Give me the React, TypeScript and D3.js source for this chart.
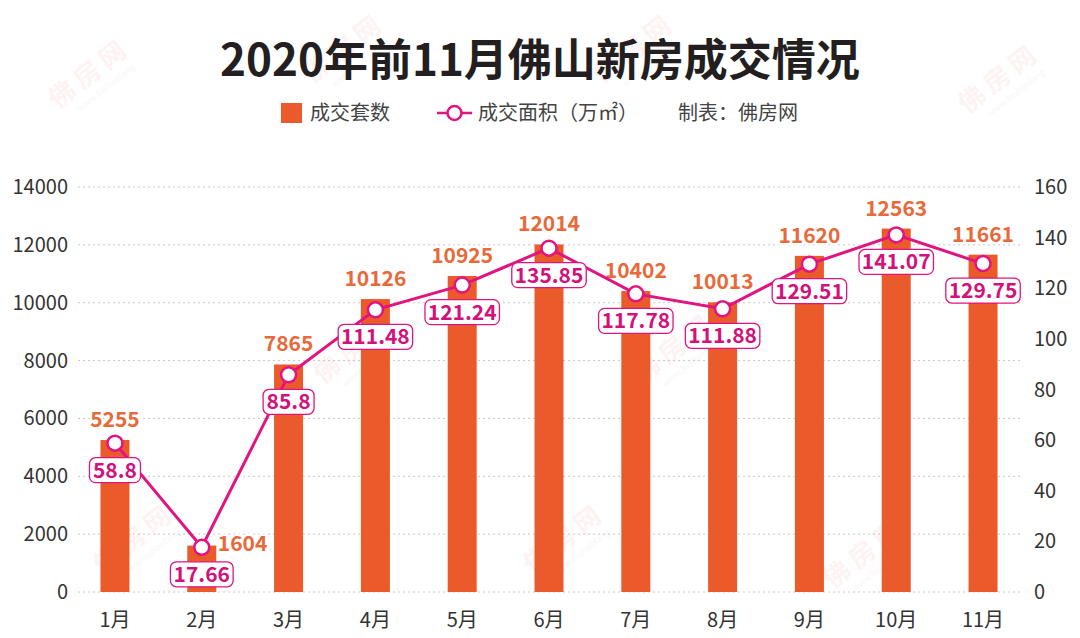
import React from 'react';
import * as d3 from 'd3';

const months = ['1月', '2月', '3月', '4月', '5月', '6月', '7月', '8月', '9月', '10月', '11月'];
const units = [5255, 1604, 7865, 10126, 10925, 12014, 10402, 10013, 11620, 12563, 11661];
const areas = [58.8, 17.66, 85.8, 111.48, 121.24, 135.85, 117.78, 111.88, 129.51, 141.07, 129.75];
const leftTicks = [0, 2000, 4000, 6000, 8000, 10000, 12000, 14000];
const rightTicks = [0, 20, 40, 60, 80, 100, 120, 140, 160];
const title = '2020年前11月佛山新房成交情况';
const legendBar = '成交套数';
const legendLine = '成交面积（万㎡）';
const legendSource = '制表：佛房网';

const FONT = '"Noto Sans CJK SC", "Noto Sans", sans-serif';
const BAR = '#EA5A2B';
const BAR_LABEL = '#E8693A';
const LINE = '#E0157F';
const LINE_LABEL = '#D2127A';

const watermarks: [number, number][] = [
  [95, 80], [1005, 85], [360, 355], [680, 355], [140, 545], [570, 545], [870, 560], [350, 55], [640, 55],
];

function textWidth(s: string, size: number) {
  let w = 0;
  for (const c of s) w += c === '.' ? 0.27 * size : 0.56 * size;
  return w;
}

export default function App() {
  const x = d3.scaleBand<string>().domain(months).range([72, 1026]).paddingInner(0.666).paddingOuter(0.328);
  const yL = d3.scaleLinear().domain([0, 14000]).range([592, 187]);
  const yR = d3.scaleLinear().domain([0, 160]).range([592, 187]);
  const cx = (m: string) => (x(m) as number) + x.bandwidth() / 2;
  const line = d3.line<number>().x((_, i) => cx(months[i])).y(d => yR(d));

  return (
    <svg width={1080} height={638} style={{ position: 'absolute', left: 0, top: 0, background: '#fff' }} fontFamily={FONT}>
      <rect x={0} y={0} width={1080} height={638} fill="#fff" />
      {/* watermarks */}
      {watermarks.map(([wx, wy], i) => (
        <g key={i} transform={`translate(${wx},${wy}) rotate(-38)`} opacity={0.09}>
          <text x={0} y={0} textAnchor="middle" fontSize={26} fontWeight={700} fill="#F08080" letterSpacing={6}>佛房网</text>
          <text x={4} y={16} textAnchor="middle" fontSize={9} fill="#c89090">www.foshanfang</text>
        </g>
      ))}
      {/* title */}
      <text x={540} y={76} textAnchor="middle" fontSize={44} fontWeight={700} fill="#231f20">{title}</text>
      {/* legend */}
      <rect x={281} y={103} width={21} height={20} fill={BAR} />
      <text x={310} y={120} fontSize={20} fill="#444">{legendBar}</text>
      <line x1={437} x2={472} y1={113} y2={113} stroke={LINE} strokeWidth={2.5} />
      <circle cx={454.5} cy={113} r={7} fill="#fff" stroke={LINE} strokeWidth={2.5} />
      <text x={478} y={120} fontSize={20} fill="#444">{legendLine}</text>
      <text x={678} y={120} fontSize={20} fill="#444">{legendSource}</text>
      {/* grid */}
      {leftTicks.map(t => (
        <line key={t} x1={78} x2={1022} y1={yL(t)} y2={yL(t)} stroke="#c8c8c8" strokeWidth={1} strokeDasharray="2,3" />
      ))}
      {leftTicks.map(t => (
        <text key={'l' + t} x={68} y={yL(t)} dy="0.35em" textAnchor="end" fontSize={20} fill="#333">{t}</text>
      ))}
      {rightTicks.map(t => (
        <text key={'r' + t} x={1034} y={yR(t)} dy="0.35em" textAnchor="start" fontSize={20} fill="#333">{t}</text>
      ))}
      {/* bars */}
      {months.map((m, i) => (
        <rect key={m} x={x(m)} y={yL(units[i])} width={x.bandwidth()} height={yL(0) - yL(units[i])} fill={BAR} />
      ))}
      {/* month labels */}
      {months.map(m => (
        <text key={'m' + m} x={cx(m)} y={627} textAnchor="middle" fontSize={20} fill="#333">{m}</text>
      ))}
      {/* bar value labels */}
      {months.map((m, i) => {
        const side = i === 1;
        return (
          <text
            key={'v' + m}
            x={side ? cx(m) + 16 : cx(m)}
            y={side ? yL(units[i]) + 5 : yL(units[i]) - 13}
            textAnchor={side ? 'start' : 'middle'}
            fontSize={21}
            fontWeight={700}
            fill={BAR_LABEL}
            stroke="#fff"
            strokeWidth={4}
            paintOrder="stroke"
          >
            {units[i]}
          </text>
        );
      })}
      {/* line */}
      <path d={line(areas) || ''} fill="none" stroke={LINE} strokeWidth={3} />
      {areas.map((v, i) => (
        <circle key={'c' + i} cx={cx(months[i])} cy={yR(v)} r={7.5} fill="#fff" stroke={LINE} strokeWidth={2.5} />
      ))}
      {areas.map((v, i) => {
        const s = String(v);
        const w = textWidth(s, 21) + 10;
        const px = cx(months[i]);
        const py = yR(v) + 27;
        return (
          <g key={'a' + i}>
            <rect x={px - w / 2} y={py - 12.5} width={w} height={25} rx={6} fill="#fff" stroke={LINE} strokeWidth={1.3} />
            <text x={px} y={py} dy="0.36em" textAnchor="middle" fontSize={21} fontWeight={700} fill={LINE_LABEL}>{s}</text>
          </g>
        );
      })}
    </svg>
  );
}
